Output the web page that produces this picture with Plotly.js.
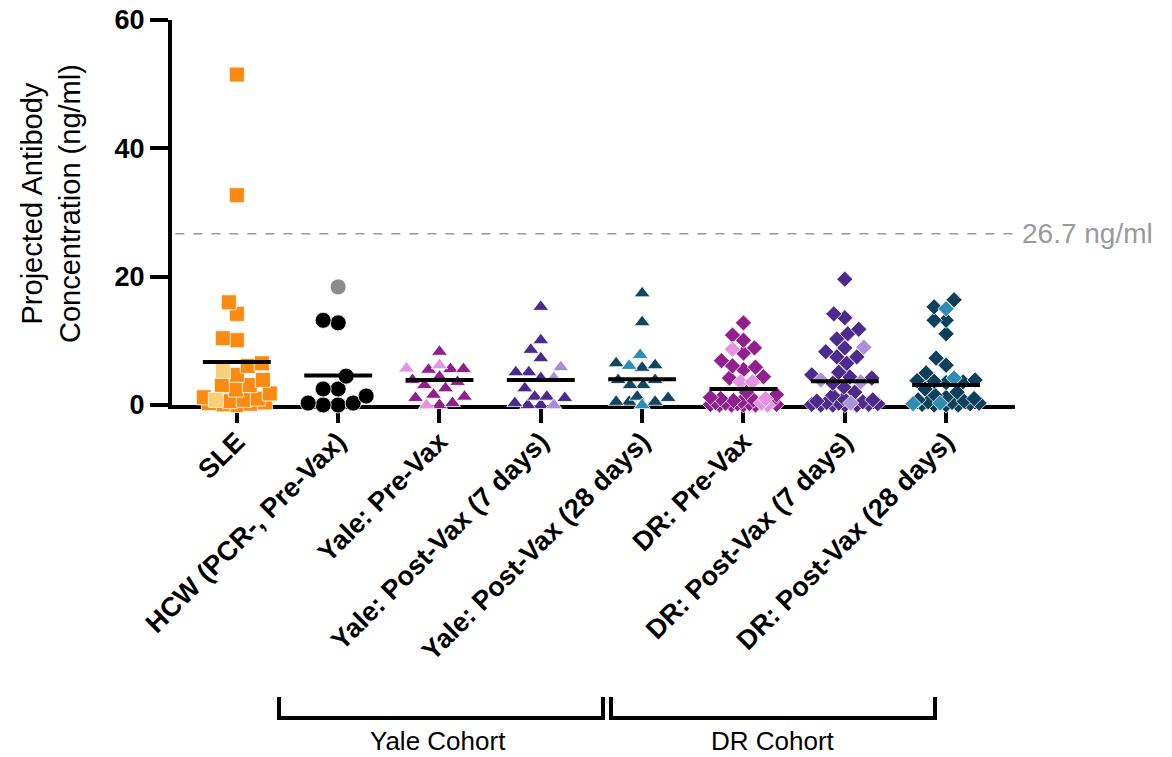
<!DOCTYPE html>
<html>
<head>
<meta charset="utf-8">
<script src="https://cdn.plot.ly/plotly-3.0.1.min.js"></script>
<style>html,body{margin:0;padding:0;background:#fff;}#chart{width:1172px;height:757px;}</style>
</head>
<body>
<div id="chart"></div>
<script>
// ---- data ----
const categories = ["SLE", "HCW (PCR-, Pre-Vax)", "Yale: Pre-Vax", "Yale: Post-Vax (7 days)",
  "Yale: Post-Vax (28 days)", "DR: Pre-Vax", "DR: Post-Vax (7 days)", "DR: Post-Vax (28 days)"];

const sleValues = [51.5, 32.7, 16.0, 14.2, 10.4, 10.1, 6.5, 6.1, 4.7, 3.9, 3.1, 3.1, 2.4, 1.8, 1.2, 1.0, 0.8, 0.6, 0.4, 0.3, 0.2, 0.1, 0.0];
const sleHighlight = [5.3, 0.8];
const hcwValues = [13.2, 12.8, 4.5, 2.5, 2.5, 1.4, 0.3, 0.3, 0.0, 0.0];
const hcwHighlight = [18.4];
const yalePreValues = [8.3, 5.6, 5.6, 5.5, 4.4, 3.9, 3.6, 3.1, 2.6, 1.6, 1.3, 1.1, 0.3, 0.0];
const yalePreHighlight = [6.2, 5.7, 0.0];
const yale7Values = [15.3, 10.1, 8.6, 7.3, 5.1, 5.1, 4.2, 2.6, 1.3, 1.3, 1.1, 0.3, 0.0, 0.0];
const yale7Highlight = [5.9, 4.2, 0.0];
const yale28Values = [17.4, 12.9, 6.5, 6.2, 5.8, 3.9, 3.9, 3.1, 3.1, 1.3, 1.1, 0.5, 0.5, 0.5];
const yale28Highlight = [7.8, 6.1, 0.0];
const drPreValues = [12.8, 10.9, 10.1, 8.9, 8.1, 6.9, 6.1, 5.9, 5.5, 4.4, 4.2, 2.0, 1.6, 1.2, 1.0, 0.8, 0.7, 0.6, 0.5, 0.4, 0.3, 0.2, 0.2, 0.1, 0.1, 0.0, 0.0, 0.0, 0.0];
const drPreHighlight = [8.7, 3.6, 3.6, 1.0, 0.3, 0.0];
const dr7Values = [19.6, 14.2, 13.6, 11.8, 11.1, 10.3, 8.9, 8.3, 7.5, 7.5, 6.5, 5.1, 4.7, 4.4, 4.2, 3.4, 2.8, 2.0, 1.5, 1.0, 0.8, 0.6, 0.5, 0.4, 0.3, 0.2, 0.1, 0.1, 0.0, 0.0, 0.0, 0.0];
const dr7Highlight = [9.0, 3.9, 3.6, 0.3];
const dr28Values = [16.4, 15.3, 13.2, 13.2, 11.1, 7.3, 6.2, 5.0, 3.9, 3.8, 3.7, 3.6, 3.5, 2.5, 2.0, 1.5, 1.2, 1.0, 0.8, 0.6, 0.5, 0.4, 0.3, 0.2, 0.1, 0.0, 0.0, 0.0];
const dr28Highlight = [15.0, 4.2, 0.3, 0.2];
const groupMeans = [6.7, 4.6, 3.9, 3.9, 4.0, 2.5, 3.7, 3.1];
const threshold = 26.7;
const thresholdLabel = "26.7 ng/ml";
const yTicks = [0, 20, 40, 60];
const cohortLabels = ["Yale Cohort", "DR Cohort"];

// ---- styling ----
const FONT = "Liberation Sans, Arial, Helvetica, sans-serif";
const groups = [
  {v: sleValues, h: sleHighlight, sym: "square", size: 15, c: "#FB8A12", hc: "#F9CE78"},
  {v: hcwValues, h: hcwHighlight, sym: "circle", size: 16, c: "#000000", hc: "#8C8C8C"},
  {v: yalePreValues, h: yalePreHighlight, sym: "triangle-up", size: 14, c: "#8E1F8C", hc: "#E394E4"},
  {v: yale7Values, h: yale7Highlight, sym: "triangle-up", size: 14, c: "#4A2B8C", hc: "#A68FD8"},
  {v: yale28Values, h: yale28Highlight, sym: "triangle-up", size: 14, c: "#10465F", hc: "#2D8DB4"},
  {v: drPreValues, h: drPreHighlight, sym: "diamond", size: 12.5, c: "#911F8D", hc: "#E691E3"},
  {v: dr7Values, h: dr7Highlight, sym: "diamond", size: 12.5, c: "#4D2A8D", hc: "#A993D8"},
  {v: dr28Values, h: dr28Highlight, sym: "diamond", size: 12.5, c: "#0C405C", hc: "#2E8DB3"}
];

const W = 1172, H = 757;
const mL = 172, mR = 157, mT = 20, mB = 352;
const xRange = [-0.64, 7.68], yRange = [0, 60];
const plotW = W - mL - mR, plotH = H - mT - mB;
const pxPerCat = plotW / (xRange[1] - xRange[0]);
const pxPerUnit = plotH / (yRange[1] - yRange[0]);

// deterministic beeswarm layout (pixel space), capped width
function swarm(pts, d, maxHalf) {
  const sorted = pts.slice().sort((a, b) => a.y - b.y);
  const placed = [];
  sorted.forEach(p => {
    const py = p.y * pxPerUnit;
    let best = null, bestAbs = Infinity, fallback = 0, fallbackD = -1;
    for (let o = -maxHalf; o <= maxHalf; o += 1) {
      let minD = Infinity;
      for (const q of placed) {
        const dy = q.py - py;
        if (Math.abs(dy) >= d) continue;
        const dd = Math.hypot(q.px - o, dy);
        if (dd < minD) minD = dd;
      }
      if (minD >= d) {
        if (Math.abs(o) < bestAbs) { bestAbs = Math.abs(o); best = o; }
      }
      if (minD > fallbackD + 1e-9 || (Math.abs(minD - fallbackD) < 1e-9 && Math.abs(o) < Math.abs(fallback))) {
        fallbackD = minD; fallback = o;
      }
    }
    const px = best !== null ? best : fallback;
    placed.push({px, py, y: p.y, hl: p.hl});
  });
  return placed;
}

const traces = [];
groups.forEach((g, i) => {
  const pts = g.v.map(y => ({y, hl: false})).concat(g.h.map(y => ({y, hl: true})));
  const placed = swarm(pts, g.size * 0.92, 33);
  const dark = placed.filter(p => !p.hl), light = placed.filter(p => p.hl);
  [[dark, g.c], [light, g.hc]].forEach(([arr, col]) => {
    traces.push({
      type: "scatter", mode: "markers", cliponaxis: false, hoverinfo: "y",
      x: arr.map(p => i + p.px / pxPerCat),
      y: arr.map(p => p.y),
      marker: {symbol: g.sym, size: g.size, color: col, line: {color: "#ffffff", width: 0.8}},
      showlegend: false
    });
  });
});

const shapes = [];
groupMeans.forEach((m, i) => {
  shapes.push({type: "line", xref: "x", yref: "y", x0: i - 0.335, x1: i + 0.335, y0: m, y1: m,
    line: {color: "#000", width: 4}});
});
shapes.push({type: "line", xref: "paper", yref: "y", x0: 0.004, x1: 1, y0: threshold, y1: threshold,
  line: {color: "#999999", width: 1.5, dash: "dash"}, layer: "below"});

// cohort brackets (paper coordinates, below the axis)
function px2paperX(px) { return (px - mL) / plotW; }
function px2paperY(py) { return (mT + plotH - py) / plotH; }
const brackets = [[279, 603], [611, 935]];
const yTop = px2paperY(697), yBot = px2paperY(718);
brackets.forEach(([a, b]) => {
  const xa = px2paperX(a), xb = px2paperX(b);
  shapes.push({type: "path", xref: "paper", yref: "paper",
    path: `M${xa},${yTop} L${xa},${yBot} L${xb},${yBot} L${xb},${yTop}`,
    line: {color: "#000", width: 4}});
});

const annotations = [
  {xref: "paper", yref: "y", x: px2paperX(1020), y: threshold, xanchor: "left", yanchor: "middle",
   text: thresholdLabel, showarrow: false, font: {family: FONT, size: 28, color: "#9A9A9A"}},
  {xref: "paper", yref: "paper", x: px2paperX(438), y: px2paperY(741), xanchor: "center", yanchor: "middle",
   borderpad: 0, text: cohortLabels[0], showarrow: false, font: {family: FONT, size: 26, color: "#000"}},
  {xref: "paper", yref: "paper", x: px2paperX(773), y: px2paperY(741), xanchor: "center", yanchor: "middle",
   borderpad: 0, text: cohortLabels[1], showarrow: false, font: {family: FONT, size: 26, color: "#000"}},
  {xref: "paper", yref: "paper", x: px2paperX(51), y: px2paperY(203), xanchor: "center", yanchor: "middle",
   textangle: -90, text: "Projected Antibody<br>Concentration (ng/ml)", showarrow: false,
   font: {family: FONT, size: 29, color: "#000"}}
];

const layout = {
  width: W, height: H,
  margin: {l: mL, r: mR, t: mT, b: mB, pad: 0},
  paper_bgcolor: "#fff", plot_bgcolor: "#fff",
  showlegend: false,
  xaxis: {
    range: xRange, tickmode: "array", tickvals: categories.map((c, i) => i), ticktext: categories,
    tickangle: -45, showgrid: false, zeroline: false, showline: true, linecolor: "#000", linewidth: 4,
    ticks: "outside", ticklen: 14, tickwidth: 4, tickcolor: "#000", layer: "below traces",
    ticklabelstandoff: -8,
    tickfont: {family: FONT, size: 27, color: "#000", weight: "bold"}
  },
  yaxis: {
    range: yRange, tickmode: "array", tickvals: yTicks, showgrid: false, zeroline: false,
    showline: true, linecolor: "#000", linewidth: 4, ticks: "outside", ticklen: 18, tickwidth: 4,
    tickcolor: "#000", layer: "below traces",
    tickfont: {family: FONT, size: 27, color: "#000", weight: "bold"}
  },
  shapes, annotations
};

Plotly.newPlot("chart", traces, layout, {displayModeBar: false, staticPlot: true});
</script>
</body>
</html>
